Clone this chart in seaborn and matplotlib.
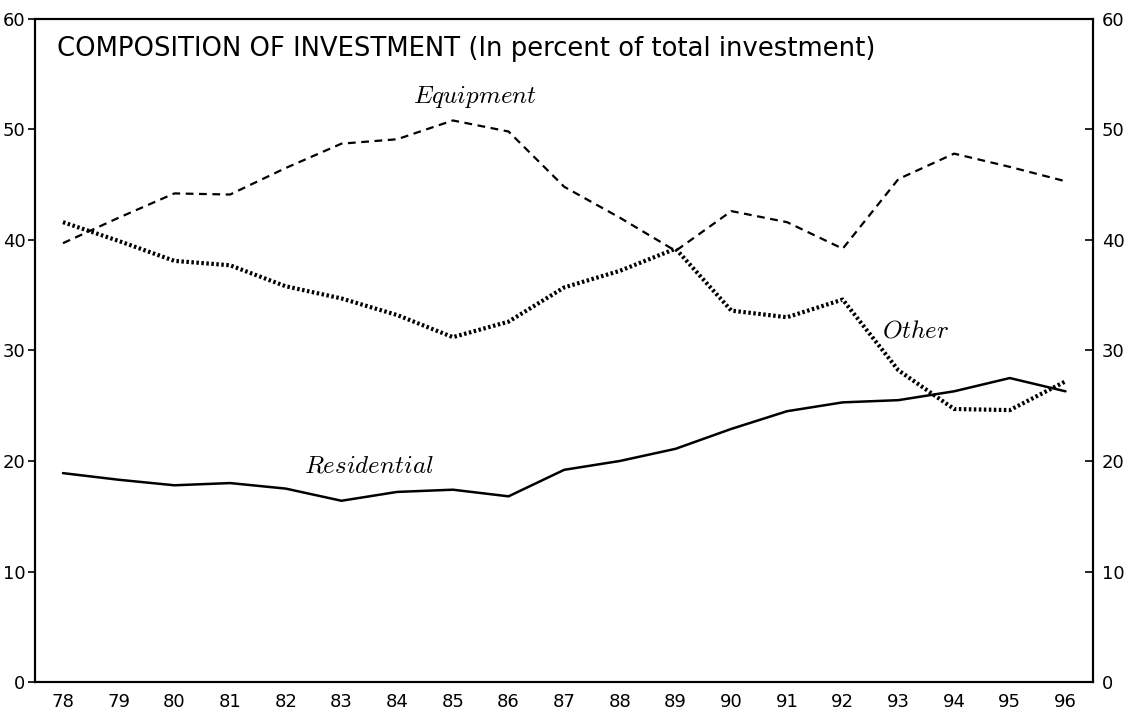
import matplotlib
matplotlib.use("Agg")
import matplotlib.pyplot as plt
import seaborn as sns
import pandas as pd

years = list(range(78, 97))
equipment = [39.7, 42.0, 44.2, 44.1, 46.5, 48.7, 49.1, 50.8, 49.8, 44.8, 42.0,
             39.0, 42.6, 41.6, 39.2, 45.5, 47.8, 46.6, 45.3]
other = [41.6, 39.9, 38.1, 37.7, 35.8, 34.7, 33.2, 31.2, 32.6, 35.7, 37.2,
         39.2, 33.6, 33.0, 34.6, 28.2, 24.7, 24.6, 27.2]
residential = [18.9, 18.3, 17.8, 18.0, 17.5, 16.4, 17.2, 17.4, 16.8, 19.2, 20.0,
               21.1, 22.9, 24.5, 25.3, 25.5, 26.3, 27.5, 26.3]
y_ticks = [0, 10, 20, 30, 40, 50, 60]

df = pd.DataFrame({"year": years, "Equipment": equipment,
                   "Other": other, "Residential": residential})

sns.set_style("white")
plt.rcParams["font.family"] = ["DejaVu Sans"]
plt.rcParams["mathtext.fontset"] = "cm"
plt.rcParams["text.color"] = "black"
plt.rcParams["xtick.color"] = "black"
plt.rcParams["ytick.color"] = "black"

fig = plt.figure(figsize=(11.33, 7.21), dpi=100)
ax = fig.add_axes([0.031, 0.054, 0.934, 0.92])

sns.lineplot(data=df, x="year", y="Equipment", ax=ax, color="black",
             linewidth=1.6, linestyle=(0, (3.5, 2.5)))
sns.lineplot(data=df, x="year", y="Other", ax=ax, color="black",
             linewidth=3.0, linestyle=(0, (0.6, 0.6)))
sns.lineplot(data=df, x="year", y="Residential", ax=ax, color="black",
             linewidth=1.8)

ax.set_xlim(77.5, 96.5)
ax.set_ylim(0, 60)
ax.set_xlabel("")
ax.set_ylabel("")

ax.set_xticks(years)
ax.set_xticklabels([str(y) for y in years], fontsize=13)
ax.set_xticks([y + 0.5 for y in years[:-1]], minor=True)
ax.tick_params(axis="x", which="major", length=0, pad=8)
ax.tick_params(axis="x", which="minor", direction="in", length=7, width=1.2)

ax.set_yticks(y_ticks)
ax.set_yticklabels([str(v) for v in y_ticks], fontsize=13)
ax.tick_params(axis="y", direction="out", length=5, width=1.2, pad=2, left=True)

ax2 = ax.twinx()
ax2.set_ylim(0, 60)
ax2.set_yticks(y_ticks)
ax2.set_yticklabels([str(v) for v in y_ticks], fontsize=13)
ax2.tick_params(axis="y", direction="in", length=6, width=1.2, pad=6, right=True)

for a in (ax, ax2):
    for s in a.spines.values():
        s.set_visible(True)
        s.set_color("black")
        s.set_linewidth(1.5)

ax.text(77.9, 57.3, "COMPOSITION OF INVESTMENT (In percent of total investment)",
        fontsize=18.6, ha="left", va="center")
ax.text(85.4, 52.9, r"$\mathit{Equipment}$", fontsize=18, ha="center", va="center")
ax.text(93.3, 31.8, r"$\mathit{Other}$", fontsize=18, ha="center", va="center")
ax.text(83.5, 19.6, r"$\mathit{Residential}$", fontsize=18, ha="center", va="center")

fig.savefig("out.png", dpi=100)
